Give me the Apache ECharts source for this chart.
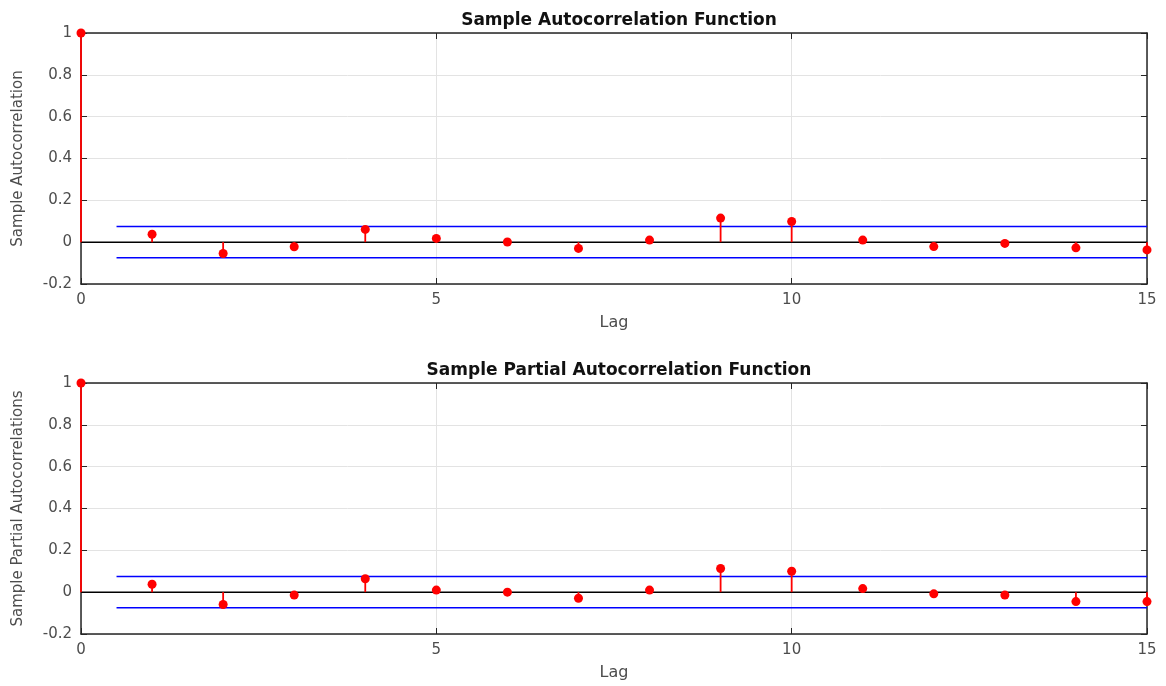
<!DOCTYPE html>
<html><head><meta charset="utf-8">
<script src="https://cdn.jsdelivr.net/npm/echarts@6/dist/echarts.min.js"></script>
<style>html,body{margin:0;padding:0;background:#fff}#c{width:1166px;height:686px}</style>
</head><body><div id="c"></div>
<script>
const lags = [0,1,2,3,4,5,6,7,8,9,10,11,12,13,14,15];
const acf  = [1,0.038,-0.054,-0.022,0.061,0.018,0.001,-0.030,0.010,0.115,0.099,0.010,-0.021,-0.006,-0.027,-0.037];
const pacf = [1,0.038,-0.059,-0.014,0.064,0.010,0.000,-0.029,0.010,0.113,0.100,0.017,-0.008,-0.014,-0.045,-0.045];
const acfBound = 0.075;
const pacfBound = 0.075;
const boundStart = 0.5, boundEnd = 15;
const xTicks = [0,5,10,15];
const yTicks = [-0.2,0,0.2,0.4,0.6,0.8,1];
const titles = ['Sample Autocorrelation Function','Sample Partial Autocorrelation Function'];
const yNames = ['Sample Autocorrelation','Sample Partial Autocorrelations'];

const FONT = '"DejaVu Sans", "Liberation Sans", Arial, sans-serif';
const EDGE = '#262626';
const TXT = '#4d4d4d';
const grids = [
  {left:81, right:19, top:33, height:251},
  {left:81, right:19, top:383, height:251}
];
const xAxes = [], yAxes = [], series = [];
const edgeLine = {show:true, onZero:false, lineStyle:{color:EDGE, width:1.5}};
const tick = {show:true, inside:true, length:6, lineStyle:{color:EDGE, width:1}};
function mainX(i){
  return {gridIndex:i, type:'value', min:0, max:15, interval:5, position:'bottom',
    name:'Lag', nameLocation:'middle', nameGap:31,
    nameTextStyle:{fontFamily:FONT, fontSize:16, color:TXT},
    axisLine:edgeLine, axisTick:tick,
    axisLabel:{fontFamily:FONT, fontSize:15, color:TXT, margin:9},
    splitLine:{show:true, lineStyle:{color:'#e3e3e3', width:1}}, z:1};
}
function mainY(i){
  return {gridIndex:i, type:'value', min:-0.2, max:1, interval:0.2, position:'left',
    name:yNames[i], nameLocation:'middle', nameGap:55,
    nameTextStyle:{fontFamily:FONT, fontSize:15, color:TXT},
    axisLine:edgeLine, axisTick:tick,
    axisLabel:{fontFamily:FONT, fontSize:15, color:TXT, margin:9,
      formatter:v=>String(Math.round(v*10)/10)},
    splitLine:{show:true, lineStyle:{color:'#e3e3e3', width:1}}, z:1};
}
function secX(i){
  return {gridIndex:i, type:'value', min:0, max:15, interval:5, position:'top',
    axisLine:edgeLine, axisTick:tick,
    axisLabel:{show:false}, splitLine:{show:false}, z:1};
}
function secY(i){
  return {gridIndex:i, type:'value', min:-0.2, max:1, interval:0.2, position:'right',
    axisLine:edgeLine, axisTick:tick,
    axisLabel:{show:false}, splitLine:{show:false}, z:1};
}
xAxes.push(mainX(0), mainX(1), secX(0), secX(1));
yAxes.push(mainY(0), mainY(1), secY(0), secY(1));

[acf, pacf].forEach((vals,i)=>{
  const bound = i===0 ? acfBound : pacfBound;
  const pts = lags.map((l,k)=>[l, vals[k]]);
  series.push({
    type:'line', xAxisIndex:i, yAxisIndex:i, silent:true, symbol:'none', z:2,
    data:[[boundStart, bound],[boundEnd, bound]], lineStyle:{color:'#0000ff', width:1.5}
  });
  series.push({
    type:'line', xAxisIndex:i, yAxisIndex:i, silent:true, symbol:'none', z:2,
    data:[[boundStart, -bound],[boundEnd, -bound]], lineStyle:{color:'#0000ff', width:1.5}
  });
  series.push({
    type:'line', xAxisIndex:i, yAxisIndex:i, silent:true, symbol:'none', z:3,
    data:[[0,0],[15,0]], lineStyle:{color:'#000', width:1.5}
  });
  series.push({
    type:'custom', xAxisIndex:i, yAxisIndex:i, silent:true, z:4, clip:false,
    data:pts,
    renderItem:(params, api)=>{
      const p0 = api.coord([api.value(0), 0]);
      const p1 = api.coord([api.value(0), api.value(1)]);
      return {type:'line', shape:{x1:p0[0], y1:p0[1], x2:p1[0], y2:p1[1]},
        style:{stroke:'#ff0000', lineWidth:1.8}};
    }
  });
  series.push({
    type:'scatter', xAxisIndex:i, yAxisIndex:i, silent:true, z:5, clip:false,
    symbol:'circle', symbolSize:9, data:pts, itemStyle:{color:'#ff0000', opacity:1}
  });
});

const chart = echarts.init(document.getElementById('c'), null, {renderer:'canvas'});
chart.setOption({
  animation:false,
  backgroundColor:'#fff',
  title:[
    {text:titles[0], left:614, top:7, textAlign:'center', textStyle:{fontFamily:FONT, fontSize:17, fontWeight:'bold', color:'#111'}},
    {text:titles[1], left:614, top:357, textAlign:'center', textStyle:{fontFamily:FONT, fontSize:17, fontWeight:'bold', color:'#111'}}
  ],
  grid:grids, xAxis:xAxes, yAxis:yAxes, series:series
});
</script></body></html>
